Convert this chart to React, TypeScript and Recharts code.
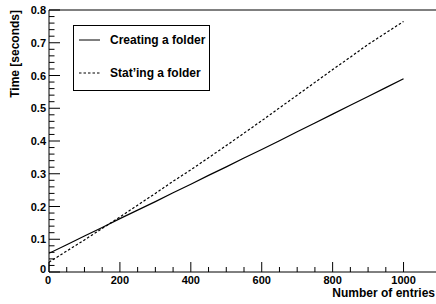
import React from 'react';
import { LineChart, Line, XAxis, YAxis, ReferenceLine } from 'recharts';

// number of entries in the folder
const entries = [0, 50, 100, 150, 200, 250, 300, 350, 400, 450, 500, 550, 600, 650, 700, 750, 800, 850, 900, 950, 1000];
// time in seconds
const creatingTimes = [0.057, 0.083, 0.110, 0.136, 0.163, 0.189, 0.215, 0.242, 0.268, 0.295, 0.321, 0.348, 0.374, 0.401, 0.428, 0.455, 0.482, 0.509, 0.536, 0.563, 0.590];
const statingTimes = [0.030, 0.064, 0.098, 0.133, 0.168, 0.204, 0.240, 0.277, 0.312, 0.349, 0.386, 0.424, 0.462, 0.501, 0.540, 0.579, 0.618, 0.656, 0.695, 0.730, 0.765];
const seriesNames = ['Creating a folder', 'Stat’ing a folder'];

const xMajorTicks = [0, 200, 400, 600, 800, 1000];
const xMinorTicks = [50, 100, 150, 250, 300, 350, 450, 500, 550, 650, 700, 750, 850, 900, 950];
const yMajorTicks = [0, 0.1, 0.2, 0.3, 0.4, 0.5, 0.6, 0.7, 0.8];
const yMinorTicks = [
  0.02, 0.04, 0.06, 0.08, 0.12, 0.14, 0.16, 0.18, 0.22, 0.24, 0.26, 0.28,
  0.32, 0.34, 0.36, 0.38, 0.42, 0.44, 0.46, 0.48, 0.52, 0.54, 0.56, 0.58,
  0.62, 0.64, 0.66, 0.68, 0.72, 0.74, 0.76, 0.78,
];

const data = entries.map((n, i) => ({ n, creating: creatingTimes[i], stating: statingTimes[i] }));

const FONT = '"Liberation Sans", Arial, Helvetica, sans-serif';
const DASH = '2.5 2';

const XTick = (props: any) => {
  const { x, y, payload } = props;
  const major = xMajorTicks.includes(payload.value);
  return (
    <g>
      <line x1={x} x2={x} y1={y} y2={y - (major ? 10 : 5)} stroke="#000" strokeWidth={1} />
      {major && (
        <text x={payload.value === 0 ? x - 1 : x} y={y + 11.5} textAnchor="middle" fontFamily={FONT} fontWeight="bold" fontSize={11} fill="#000">
          {payload.value}
        </text>
      )}
    </g>
  );
};

const YTick = (props: any) => {
  const { x, y, payload } = props;
  const major = yMajorTicks.some((t) => Math.abs(t - payload.value) < 1e-6);
  const label = String(Math.round(payload.value * 10) / 10);
  return (
    <g>
      <line x1={x} x2={x + (major ? 11 : 5.5)} y1={y} y2={y} stroke="#000" strokeWidth={1} />
      {major && (
        <text
          x={x - 3}
          y={payload.value === 0 ? y + 1 : y + 4}
          textAnchor="end"
          fontFamily={FONT}
          fontWeight="bold"
          fontSize={11}
          fill="#000"
        >
          {label}
        </text>
      )}
    </g>
  );
};

const App: React.FC = () => {
  return (
    <div style={{ position: 'absolute', left: 0, top: 0, width: 436, height: 304, overflow: 'hidden', background: '#fff' }}>
      <LineChart width={441} height={304} data={data} margin={{ top: 10, right: 2, left: 0, bottom: 0 }}>
        <XAxis
          dataKey="n"
          type="number"
          domain={[0, 1100]}
          ticks={[...xMajorTicks, ...xMinorTicks]}
          tick={<XTick />}
          tickLine={false}
          tickSize={0}
          tickMargin={0}
          height={32}
          axisLine={{ stroke: '#000', strokeWidth: 1 }}
          interval={0}
          allowDataOverflow
        />
        <YAxis
          type="number"
          domain={[0, 0.8]}
          ticks={[...yMajorTicks, ...yMinorTicks]}
          tick={<YTick />}
          tickLine={false}
          tickSize={0}
          tickMargin={0}
          width={49}
          axisLine={{ stroke: '#000', strokeWidth: 1 }}
          interval={0}
          allowDataOverflow
        />
        <ReferenceLine y={0.8} stroke="#000" strokeWidth={1} />
        <Line
          type="linear"
          dataKey="creating"
          name={seriesNames[0]}
          stroke="#000"
          strokeWidth={1.2}
          dot={false}
          isAnimationActive={false}
        />
        <Line
          type="linear"
          dataKey="stating"
          name={seriesNames[1]}
          stroke="#000"
          strokeWidth={1.2}
          strokeDasharray={DASH}
          dot={false}
          isAnimationActive={false}
        />
        {/* legend box */}
        <g>
          <rect x={73.5} y={25.5} width={136} height={65} fill="#fff" stroke="#000" strokeWidth={1} />
          {seriesNames.map((name, i) => (
            <g key={name}>
              <line
                x1={79}
                x2={100}
                y1={40 + i * 33}
                y2={40 + i * 33}
                stroke="#000"
                strokeWidth={1}
                strokeDasharray={i === 1 ? DASH : undefined}
              />
              <text x={110} y={44 + i * 33} fontFamily={FONT} fontWeight="bold" fontSize={12} fill="#000">
                {name}
              </text>
            </g>
          ))}
        </g>
        <text x={19} y={10} transform="rotate(-90 19 10)" textAnchor="end" fontFamily={FONT} fontWeight="bold" fontSize={12} fill="#000">
          Time [seconds]
        </text>
        <text x={435} y={297} textAnchor="end" fontFamily={FONT} fontWeight="bold" fontSize={12} fill="#000">
          Number of entries
        </text>
      </LineChart>
    </div>
  );
};

export default App;
